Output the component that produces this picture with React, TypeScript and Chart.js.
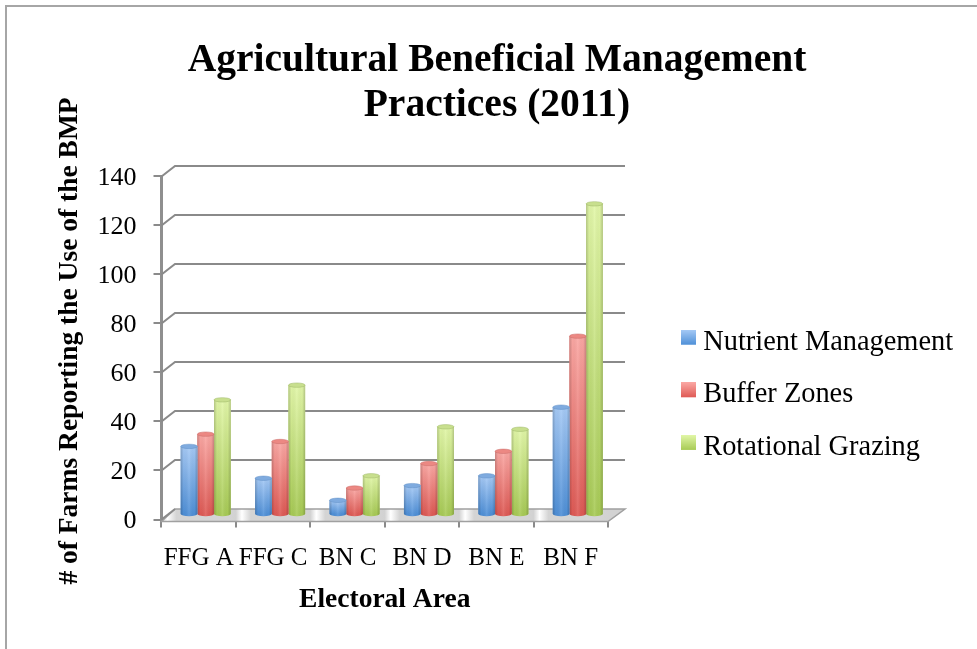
import React, { useEffect, useRef } from "react";
import { Chart, registerables } from "chart.js";

Chart.register(...registerables);

const categories = ["FFG A", "FFG C", "BN C", "BN D", "BN E", "BN F"];
const nutrientManagement = [28, 15, 6, 12, 16, 44];
const bufferZones = [33, 30, 11, 21, 26, 73];
const rotationalGrazing = [47, 53, 16, 36, 35, 127];

const SERIF = "'Liberation Serif', serif";
const DEPTH_X = 13.5;
const DEPTH_Y = -10.5;
const BAR_DX = 7;
const BAR_DY = -4.5;

const shades = [
  { top: "#a6caf6", bottom: "#4f90d8", cap: "#7fabdf", rim: "#5f8fc6" },
  { top: "#fba8a4", bottom: "#df5a55", cap: "#ec8883", rim: "#c96a66" },
  { top: "#e2f7a8", bottom: "#a8cb56", cap: "#c8df8e", rim: "#9db667" },
];

function legendSwatch(i: number) {
  const c = document.createElement("canvas");
  c.width = 15;
  c.height = 25;
  const g = c.getContext("2d")!;
  const grad = g.createLinearGradient(0, 0, 0, 15);
  grad.addColorStop(0, shades[i].top);
  grad.addColorStop(1, shades[i].bottom);
  g.fillStyle = grad;
  g.fillRect(0, 0, 15, 15);
  return c;
}

const scenePlugin = {
  id: "scene",
  afterLayout(chart: any) {
    const title = chart.titleBlock;
    if (title) {
      title.left = 0;
      title.right = 994;
    }
    const legend = chart.legend;
    if (legend) {
      const w = legend.width;
      const h = legend.height;
      const pad = legend.options.labels.padding;
      legend.left = 688.5 - pad;
      legend.right = legend.left + w;
      legend.top = 328 - pad;
      legend.bottom = legend.top + h;
    }
    const y = chart.scales.y;
    if (!y._shifted) {
      y._shifted = true;
      const drawTitle = y.drawTitle.bind(y);
      y.drawTitle = () => {
        chart.ctx.save();
        chart.ctx.translate(0, -7);
        drawTitle();
        chart.ctx.restore();
      };
      const drawLabels = y.drawLabels.bind(y);
      y.drawLabels = (area: any) => {
        chart.ctx.save();
        chart.ctx.translate(0, 2);
        drawLabels(area);
        chart.ctx.restore();
      };
    }
  },
  beforeDraw(chart: any) {
    const ctx = chart.ctx;
    ctx.save();
    ctx.fillStyle = "#ffffff";
    ctx.fillRect(0, 0, chart.width, chart.height);
    ctx.strokeStyle = "#a6a6a6";
    ctx.lineWidth = 2;
    ctx.strokeRect(6, 6, chart.width + 20, chart.height + 20);
    ctx.restore();
  },
  beforeDatasetsDraw(chart: any) {
    const ctx = chart.ctx;
    const { x, y } = chart.scales;
    const left = x.left;
    const right = x.right;
    const y0 = y.getPixelForValue(0);
    ctx.save();
    // floor
    ctx.beginPath();
    ctx.moveTo(left, y0 + 2);
    ctx.lineTo(right, y0 + 2);
    ctx.lineTo(right + DEPTH_X + 3.5, y0 + DEPTH_Y);
    ctx.lineTo(left + DEPTH_X, y0 + DEPTH_Y);
    ctx.closePath();
    const floor = ctx.createLinearGradient(left, 0, right, 0);
    const n = categories.length;
    for (let i = 0; i < n; i++) {
      floor.addColorStop(i / n, "#d2d2d2");
      floor.addColorStop((i + 0.08) / n, "#ffffff");
      floor.addColorStop((i + 0.2) / n, "#d4d4d4");
      floor.addColorStop((i + 0.9) / n, "#d4d4d4");
    }
    floor.addColorStop(1, "#d2d2d2");
    ctx.fillStyle = floor;
    ctx.fill();
    ctx.strokeStyle = "#a0a0a0";
    ctx.lineWidth = 1.5;
    ctx.stroke();
    // back wall and side lines
    ctx.strokeStyle = "#8a8a8a";
    ctx.lineWidth = 2;
    for (const tick of y.ticks) {
      const py = y.getPixelForValue(tick.value);
      ctx.beginPath();
      ctx.moveTo(left, py);
      ctx.lineTo(left + DEPTH_X, py + DEPTH_Y);
      if (tick.value > 0) ctx.lineTo(right + DEPTH_X + 3.5, py + DEPTH_Y);
      ctx.stroke();
    }
    ctx.restore();
  },
  beforeDatasetDraw(chart: any) {
    chart.ctx.save();
    chart.ctx.translate(BAR_DX, BAR_DY);
  },
  afterDatasetDraw(chart: any, args: any) {
    const ctx = chart.ctx;
    const s = shades[args.index];
    for (const el of args.meta.data) {
      const w = el.width;
      const l = el.x - w / 2;
      const ry = 2.2;
      const body = ctx.createLinearGradient(0, el.y, 0, el.base);
      body.addColorStop(0, s.top);
      body.addColorStop(1, s.bottom);
      ctx.beginPath();
      ctx.moveTo(l, el.y);
      ctx.lineTo(l, el.base);
      ctx.ellipse(el.x, el.base, w / 2, ry, 0, Math.PI, 0, true);
      ctx.lineTo(l + w, el.y);
      ctx.closePath();
      ctx.fillStyle = body;
      ctx.fill();
      const sh = ctx.createLinearGradient(l, 0, l + w, 0);
      sh.addColorStop(0, "rgba(0,0,0,0.2)");
      sh.addColorStop(0.18, "rgba(0,0,0,0.02)");
      sh.addColorStop(0.5, "rgba(255,255,255,0.1)");
      sh.addColorStop(0.82, "rgba(0,0,0,0.02)");
      sh.addColorStop(1, "rgba(0,0,0,0.2)");
      ctx.fillStyle = sh;
      ctx.fill();
      ctx.beginPath();
      ctx.ellipse(el.x, el.y, w / 2, ry, 0, 0, Math.PI * 2);
      ctx.fillStyle = s.cap;
      ctx.fill();
      ctx.strokeStyle = s.rim;
      ctx.lineWidth = 0.5;
      ctx.stroke();
    }
    ctx.restore();
  },
};

export default function App() {
  const ref = useRef<HTMLCanvasElement>(null);
  useEffect(() => {
    const chart = new Chart(ref.current!, {
      type: "bar",
      data: {
        labels: categories,
        datasets: [
          { label: "Nutrient Management", data: nutrientManagement, backgroundColor: "#7aade6" },
          { label: "Buffer Zones", data: bufferZones, backgroundColor: "#ec807c" },
          { label: "Rotational Grazing", data: rotationalGrazing, backgroundColor: "#c5e17e" },
        ].map((d) => ({ ...d, clip: false as any, categoryPercentage: 0.672, barPercentage: 1 })),
      },
      options: {
        responsive: false,
        animation: false,
        layout: { padding: { left: 0, right: 369, top: 0, bottom: 0 } },
        scales: {
          x: {
            afterFit: (s: any) => {
              s.height = 129.5;
            },
            grid: { drawOnChartArea: false, color: "#8a8a8a", lineWidth: 2, tickLength: 8 },
            border: { display: false },
            ticks: {
              color: "#000",
              padding: 16,
              maxRotation: 0,
              autoSkip: false,
              font: { family: SERIF, size: 25 },
            },
            title: {
              display: true,
              text: "Electoral Area",
              color: "#000",
              padding: { top: 0, bottom: 32.5 },
              font: { family: SERIF, size: 27.5, weight: "bold" },
            },
          },
          y: {
            min: 0,
            max: 140,
            afterFit: (s: any) => {
              s.width = 161.5;
            },
            grid: { drawOnChartArea: false, color: "#8a8a8a", lineWidth: 2, tickLength: 8 },
            border: { display: true, color: "#8f8f8f", width: 3 },
            ticks: {
              stepSize: 20,
              color: "#000",
              padding: 17,
              font: { family: SERIF, size: 26 },
            },
            title: {
              display: true,
              text: "# of Farms Reporting the Use of the BMP",
              color: "#000",
              padding: { top: 53.5, bottom: 0 },
              font: { family: SERIF, size: 27.5, weight: "bold" },
            },
          },
        },
        plugins: {
          title: {
            display: true,
            text: ["Agricultural Beneficial Management", "Practices (2011)"],
            color: "#000",
            padding: { top: 38, bottom: 48.5 },
            font: { family: SERIF, size: 39.5, weight: "bold", lineHeight: 1.139 },
          },
          legend: {
            position: "chartArea" as any,
            align: "start",
            labels: {
              color: "#000",
              usePointStyle: true,
              pointStyleWidth: 0.5,
              padding: 24.2,
              font: { family: SERIF, size: 28.4 },
              generateLabels: (c: any) =>
                Chart.defaults.plugins.legend.labels
                  .generateLabels(c)
                  .map((it: any, i: number) => ({ ...it, pointStyle: legendSwatch(i) })),
            },
          },
          tooltip: { enabled: false },
        },
      },
      plugins: [scenePlugin],
    } as any);
    return () => chart.destroy();
  }, []);
  return (
    <div style={{ position: "fixed", left: 0, top: 0, width: 977, height: 649 }}>
      <canvas ref={ref} width={977} height={649} style={{ display: "block" }} />
    </div>
  );
}
